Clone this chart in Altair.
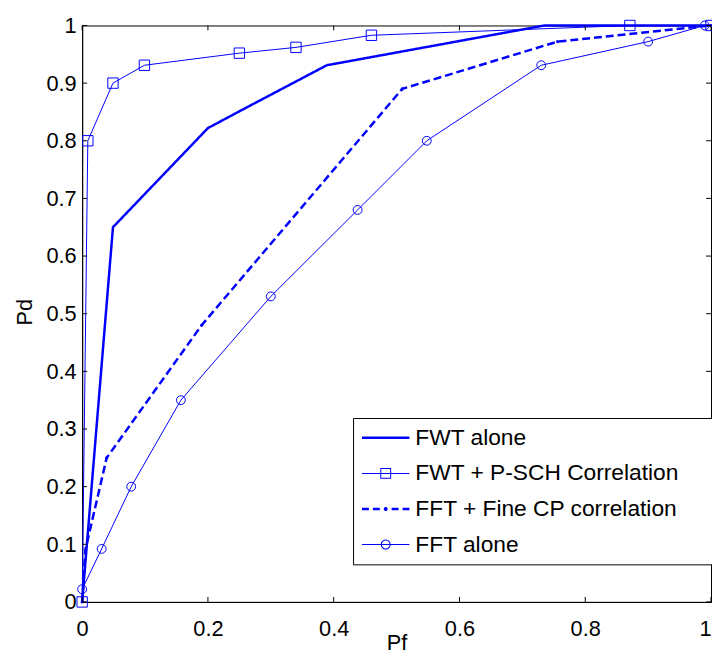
import altair as alt
import pandas as pd

# ---------------- data ----------------
series_names = ["FWT alone", "FWT + P-SCH Correlation",
                "FFT + Fine CP correlation", "FFT alone"]

pf_fwt = [0.0, 0.049, 0.20, 0.255, 0.389, 0.735, 1.0]
pd_fwt = [0.0, 0.65, 0.822, 0.854, 0.931, 1.0, 1.0]

pf_psch = [0.0, 0.009, 0.049, 0.099, 0.25, 0.34, 0.46, 0.871, 1.0]
pd_psch = [0.0, 0.80, 0.90, 0.931, 0.952, 0.962, 0.983, 1.0, 1.0]

pf_cp = [0.0, 0.005, 0.039, 0.19, 0.509, 0.756, 1.0]
pd_cp = [0.0, 0.09, 0.25, 0.48, 0.89, 0.972, 1.0]

pf_fft = [0.0, 0.031, 0.078, 0.157, 0.30, 0.438, 0.548, 0.73, 0.90, 0.99]
pd_fft = [0.022, 0.092, 0.20, 0.35, 0.53, 0.68, 0.80, 0.931, 0.972, 1.0]

x_ticks = [0, 0.2, 0.4, 0.6, 0.8, 1]
y_ticks = [0, 0.1, 0.2, 0.3, 0.4, 0.5, 0.6, 0.7, 0.8, 0.9, 1]

rows = []
for name, xs, ys in zip(series_names,
                        [pf_fwt, pf_psch, pf_cp, pf_fft],
                        [pd_fwt, pd_psch, pd_cp, pd_fft]):
    for i, (a, b) in enumerate(zip(xs, ys)):
        rows.append({"series": name, "idx": i, "pf": a, "pd": b})
df = pd.DataFrame(rows)
xt_df = pd.DataFrame({"pf": x_ticks})
yt_df = pd.DataFrame({"pd": y_ticks})

# ---------------- style ----------------
W, H = 636, 583
BLUE = "#0000ff"
FONT = "Liberation Sans"
FS = 22
TICK = 5

# legend symbol geometry (pixels relative to symbol centre, 12 px per unit)
SC = 12.0


def f(v):
    return f"{v / SC:.4f}"


def rect_cw(x0, x1, y0, y1):
    return f"M{f(x0)},{f(y0)}H{f(x1)}V{f(y1)}H{f(x0)}Z"


def rect_ccw(x0, x1, y0, y1):
    return f"M{f(x0)},{f(y0)}V{f(y1)}H{f(x1)}V{f(y0)}Z"


def circle(cx, r, cw=True):
    s = 1 if cw else 0
    return (f"M{f(cx + r)},0A{f(r)},{f(r)} 0 1,{s} {f(cx - r)},0"
            f"A{f(r)},{f(r)} 0 1,{s} {f(cx + r)},0Z")


L0, L1 = -11, 37
M = (L0 + L1) / 2
thin_line = rect_cw(L0, L1, -0.5, 0.5)
thick_line = rect_cw(L0, L1, -1.25, 1.25)
sq = rect_cw(M - 5.5, M + 5.5, -5.5, 5.5) + rect_ccw(M - 4.5, M + 4.5, -4.5, 4.5)
ci = circle(M, 5.0, True) + circle(M, 4.0, False)
dashes = "".join(rect_cw(L0 + a, L0 + b, -1.25, 1.25)
                 for a, b in [(0, 7), (11, 18), (30, 37), (41, 48)])
dot = circle(M, 2.0, True)

legend_paths = [thick_line, thin_line + sq, dashes + dot, thin_line + ci]

x_scale = alt.Scale(domain=[0, 1], nice=False, zero=False)
y_scale = alt.Scale(domain=[0, 1], nice=False, zero=False)

x_axis = alt.Axis(values=x_ticks, format="~g", title="Pf", grid=False,
                  ticks=False, tickSize=0, labelPadding=17,
                  labelFlush=False, labelOverlap=False,
                  labelAlign={"condition": {"test": "datum.value >= 1", "value": "right"},
                              "value": "center"},
                  titleY=48, titleBaseline="alphabetic")
y_axis = alt.Axis(values=y_ticks, format="~g", title="Pd", grid=False,
                  ticks=False, tickSize=0, labelPadding=6,
                  labelFlush=False, labelOverlap=False,
                  titleAngle=270, titleX=-51, titleY=H / 2 - 2,
                  titleBaseline="alphabetic", titleAlign="center")

X = alt.X("pf:Q", scale=x_scale, axis=x_axis)
Y = alt.Y("pd:Q", scale=y_scale, axis=y_axis)

base = alt.Chart(df)

thin = base.transform_filter(
    alt.FieldOneOfPredicate(field="series", oneOf=[series_names[1], series_names[3]])
).mark_line(color=BLUE, strokeWidth=1).encode(
    x=X, y=Y, detail="series:N", order="idx:Q",
)

thick = base.transform_filter(
    alt.FieldOneOfPredicate(field="series", oneOf=[series_names[0], series_names[2]])
).mark_line(color=BLUE, strokeWidth=2.5).encode(
    x=X, y=Y, detail="series:N", order="idx:Q",
    strokeDash=alt.StrokeDash("series:N", legend=None,
                              scale=alt.Scale(domain=[series_names[0], series_names[2]],
                                              range=[[1, 0], [8, 4]])),
)

squares = base.transform_filter(alt.datum.series == series_names[1]).mark_point(
    shape="square", size=110, filled=False, color=BLUE, strokeWidth=1, opacity=1
).encode(x=X, y=Y)

circles = base.transform_filter(alt.datum.series == series_names[3]).mark_point(
    shape="circle", size=80, filled=False, color=BLUE, strokeWidth=1, opacity=1
).encode(x=X, y=Y)

dots = base.transform_filter(alt.datum.series == series_names[2]).mark_point(
    shape="circle", size=10, filled=True, color=BLUE, opacity=1
).encode(x=X, y=Y)

legend_layer = base.transform_filter("false").mark_point(
    filled=True, color=BLUE, opacity=1, size=576
).encode(
    shape=alt.Shape("series:N",
                    scale=alt.Scale(domain=series_names, range=legend_paths),
                    legend=alt.Legend(
                        title=None, orient="none", legendX=274, legendY=397,
                        symbolSize=576, symbolStrokeWidth=0, symbolOpacity=1,
                        symbolFillColor=BLUE,
                        labelFont=FONT, labelFontSize=23, labelColor="black",
                        labelLimit=800, labelOffset=31,
                        labelExpr="datum.label + '     \u200b'",
                        padding=8, rowPadding=12,
                        strokeColor="black", fillColor="white")),
)

xt_bottom = alt.Chart(xt_df).mark_rule(color="black", strokeWidth=1).encode(
    x=X, y=alt.value(H), y2=alt.value(H - TICK))
xt_top = alt.Chart(xt_df).mark_rule(color="black", strokeWidth=1).encode(
    x=X, y=alt.value(0), y2=alt.value(TICK))
yt_left = alt.Chart(yt_df).mark_rule(color="black", strokeWidth=1).encode(
    y=Y, x=alt.value(0), x2=alt.value(TICK))
yt_right = alt.Chart(yt_df).mark_rule(color="black", strokeWidth=1).encode(
    y=Y, x=alt.value(W), x2=alt.value(W - TICK))

chart = alt.layer(
    thin, thick, squares, circles, dots, legend_layer,
    xt_bottom, xt_top, yt_left, yt_right,
).properties(
    width=W, height=H,
    background="white",
    autosize=alt.AutoSizeParams(type="none"),
    padding={"left": 75, "top": 14, "right": 1, "bottom": 50},
).configure_view(
    stroke="black", strokeWidth=1
).configure_axis(
    domainColor="black", domainWidth=1,
    labelFont=FONT, labelFontSize=FS, labelColor="black",
    titleFont=FONT, titleFontSize=FS, titleColor="black", titleFontWeight="normal",
)

chart.save("out.html", embed_options={"renderer": "svg", "actions": False})
